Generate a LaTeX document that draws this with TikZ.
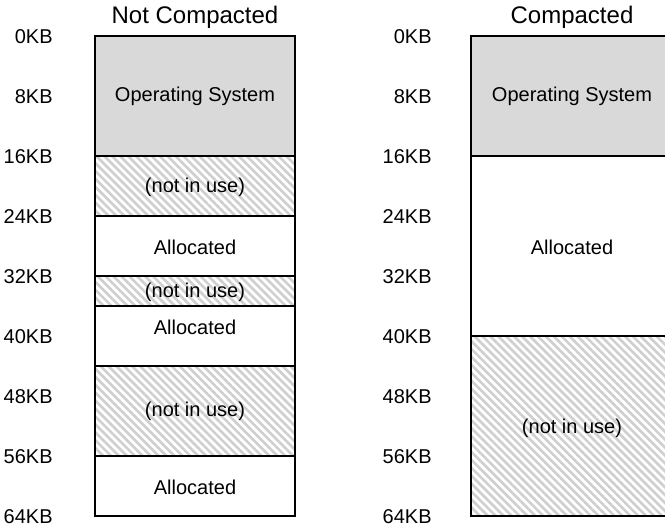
\documentclass[tikz,border=0pt]{standalone}
\usepackage{fontspec}
\setmainfont{Liberation Sans}
\usetikzlibrary{patterns.meta}
\tikzset{
  blk/.style={draw=black, line width=0.7pt},
  osblk/.style={blk, fill=gray!30},
  freeblk/.style={blk, pattern={Lines[angle=-45,distance=2.8pt,line width=1.3pt]}, pattern color=gray!38},
  useblk/.style={blk, fill=white},
  lbl/.style={font=\fontsize{10}{12}\selectfont, inner sep=0pt},
  addr/.style={lbl, anchor=east},
  ttl/.style={font=\fontsize{12}{14}\selectfont, inner sep=0pt}
}
\begin{document}
\begin{tikzpicture}[x=0.5pt,y=-0.5pt]
\clip (0,0) rectangle (665,527);
\fill[white] (0,0) rectangle (665,527);
% titles
\node[ttl] (t1) at (195,17) {Not Compacted};
\node[ttl] (t2) at (572,17) {Compacted};
% address labels
\foreach \k [count=\i from 0] in {0,8,16,24,32,40,48,56,64} {
  \node[addr] (la\i) at (53,{37+60*\i}) {\k KB};
  \node[addr] (ra\i) at (432,{37+60*\i}) {\k KB};
}
% left: not compacted
\draw[osblk] (95,36) rectangle (295,156);
\draw[freeblk] (95,156) rectangle (295,216);
\draw[useblk] (95,216) rectangle (295,276);
\draw[freeblk] (95,276) rectangle (295,306);
\draw[useblk] (95,306) rectangle (295,366);
\draw[freeblk] (95,366) rectangle (295,456);
\draw[useblk] (95,456) rectangle (295,516);
\node[lbl] (l1) at (195,96) {Operating System};
\node[lbl] (l2) at (195,187) {(not in use)};
\node[lbl] (l3) at (195,247) {Allocated};
\node[lbl] (l4) at (195,292) {(not in use)};
\node[lbl] (l5) at (195,327) {Allocated};
\node[lbl] (l6) at (195,411) {(not in use)};
\node[lbl] (l7) at (195,487) {Allocated};
% right: compacted
\draw[osblk] (471,36) rectangle (671,156);
\draw[useblk] (471,156) rectangle (671,336);
\draw[freeblk] (471,336) rectangle (671,516);
\node[lbl] (r1) at (572,96) {Operating System};
\node[lbl] (r2) at (572,247) {Allocated};
\node[lbl] (r3) at (572,428) {(not in use)};
\end{tikzpicture}
\end{document}
